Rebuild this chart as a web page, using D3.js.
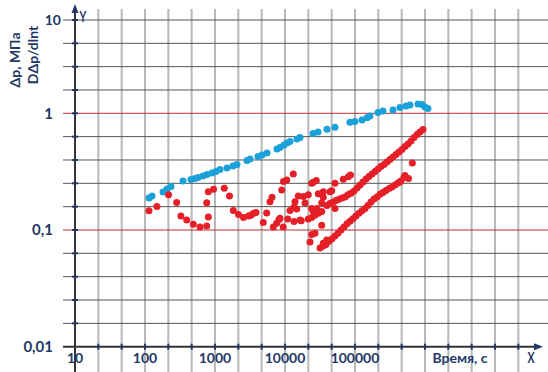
<!DOCTYPE html>
<html>
<head>
<meta charset="utf-8">
<script src="https://cdn.jsdelivr.net/npm/d3@7"></script>
<style>
  body { margin: 0; background: #fff; }
  svg { display: block; }
  text { font-family: Lato, "Noto Sans", sans-serif; font-weight: bold; fill: #1f3868; }
</style>
</head>
<body>
<div id="chart"></div>
<script>
// Δp (blue) : time, s / value, MPa
const dpTime = [114, 126, 181, 206, 235, 349, 454, 517, 572, 674, 768, 905, 1033, 1178, 1482, 1806,
  2061, 2863, 3160, 4114, 4691, 5529, 7681, 8481, 9670, 10680, 11780, 14820, 16370, 25100, 29580,
  39790, 51780, 84810, 99600, 125800, 148200, 163700, 213000, 251000, 348800, 439100, 535100,
  610200, 793900, 905100, 998900, 1102000];
const dpValue = [0.188, 0.196, 0.212, 0.225, 0.236, 0.263, 0.271, 0.276, 0.282, 0.290, 0.299, 0.308,
  0.317, 0.330, 0.340, 0.354, 0.364, 0.394, 0.406, 0.426, 0.439, 0.457, 0.494, 0.509, 0.535, 0.557,
  0.573, 0.602, 0.620, 0.671, 0.692, 0.729, 0.759, 0.837, 0.851, 0.876, 0.917, 0.948, 1.02, 1.058,
  1.085, 1.154, 1.197, 1.227, 1.258, 1.243, 1.168, 1.126];

// DΔp/dlnt (red) : scattered early part
const derivTime = [114, 148, 217, 283, 326, 394, 490, 611, 761, 803, 761, 803, 952, 1358, 1611, 1825,
  2167, 2554, 3010, 3268, 3548, 3853, 4899, 5477, 6105, 6520, 6805, 7607, 8207, 8484, 8972, 9519,
  10576, 13140, 9456, 10928, 11788, 13446, 13895, 14690, 13446, 17095, 16380, 15486, 18258, 19307,
  21518, 24068, 25370, 27989, 29900, 35250, 35250, 33440, 21518, 24068, 26827, 29900, 33440, 33440,
  24068, 22760, 26827, 24068, 25370, 28360, 43940, 46470, 51795, 68060, 80210, 86240, 51795,
  // upper branch
  39800, 43900, 48500, 53500, 59100, 65200, 72000, 79400, 87700, 96800, 107000, 118000, 130100,
  144000, 158000, 175000, 193070, 213000, 235000, 260000, 286000, 316000, 349000, 385000, 425000,
  469000, 518000, 572000, 631000, 696000, 769000, 848000, 936000,
  // lower branch
  31600, 34900, 35250, 38500, 39400, 42500, 46900, 51800, 57200, 63100, 69600, 76900, 84800, 93600,
  103000, 114000, 126000, 139000, 153000, 169000, 187000, 206000, 228000, 251000, 277000, 306000,
  338000, 373000, 411000, 439000, 454000, 501000, 518000, 581000, 659000];
const derivValue = [0.146, 0.159, 0.200, 0.172, 0.132, 0.122, 0.112, 0.106, 0.108, 0.129, 0.171,
  0.213, 0.223, 0.228, 0.196, 0.147, 0.136, 0.128, 0.132, 0.134, 0.139, 0.141, 0.116, 0.140, 0.175,
  0.191, 0.106, 0.114, 0.123, 0.126, 0.220, 0.260, 0.268, 0.302, 0.106, 0.124, 0.147, 0.157, 0.175,
  0.151, 0.118, 0.120, 0.122, 0.196, 0.194, 0.170, 0.200, 0.251, 0.256, 0.265, 0.204, 0.213, 0.191,
  0.170, 0.124, 0.128, 0.134, 0.139, 0.144, 0.110, 0.0915, 0.079, 0.094, 0.153, 0.144, 0.153,
  0.213, 0.217, 0.251, 0.272, 0.286, 0.296, 0.153,
  0.162, 0.169, 0.174, 0.179, 0.183, 0.188, 0.192, 0.200, 0.206, 0.216, 0.229, 0.243, 0.258,
  0.274, 0.287, 0.302, 0.317, 0.333, 0.350, 0.364, 0.382, 0.402, 0.422, 0.444, 0.466, 0.490,
  0.519, 0.546, 0.579, 0.620, 0.658, 0.691, 0.726,
  0.070, 0.073, 0.077, 0.075, 0.082, 0.080, 0.084, 0.089, 0.094, 0.100, 0.106, 0.113, 0.119, 0.125,
  0.132, 0.139, 0.146, 0.153, 0.162, 0.174, 0.184, 0.192, 0.202, 0.210, 0.218, 0.227, 0.234,
  0.243, 0.253, 0.259, 0.263, 0.282, 0.293, 0.276, 0.375];

const xTickValues = [10, 100, 1000, 10000, 100000];
const xTickLabels = ["10", "100", "1000", "10000", "100000"];
const yTickValues = [10, 1, 0.1, 0.01];
const yTickLabels = ["10", "1", "0,1", "0,01"];
const xTitle = "Время, с";
const yTitle = ["Δp, МПа", "DΔp/dlnt"];

const width = 548;
const height = 372;
const navy = "#1f3868";

const svg = d3.select("#chart").append("svg")
  .attr("width", width)
  .attr("height", height);

const x = d3.scaleLog().domain([10, 1e7]).range([75, 495]);
// the top decade is drawn shorter than the others, as in the picture
const y = d3.scaleLog().domain([0.01, 1, 10]).range([346.7, 113.3, 20]);

// grid values: 3 cells per decade along x, 5 (4 at the top) along y
const xGrid = d3.range(0, 20).map(i => Math.pow(10, 1 + i / 3));
const yGrid = [];
for (let k = -2; k < 0; k++) {
  for (let j = 0; j < 5; j++) yGrid.push(Math.pow(10, k + j / 5));
}
for (let j = 0; j <= 4; j++) yGrid.push(Math.pow(10, j / 4));

const x0 = x(10), y0 = y(0.01);

// vertical grid
svg.append("g").selectAll("line")
  .data(xGrid.slice(1))
  .join("line")
  .attr("x1", d => x(d)).attr("x2", d => x(d))
  .attr("y1", 9).attr("y2", height)
  .attr("stroke", "#b8b8b8")
  .attr("stroke-width", 2);

// horizontal grid
svg.append("g").selectAll("line")
  .data(yGrid.slice(1))
  .join("line")
  .attr("x1", 63).attr("x2", width)
  .attr("y1", d => y(d)).attr("y2", d => y(d))
  .attr("stroke", d => (Math.abs(d - 1) < 1e-9 || Math.abs(d - 0.1) < 1e-9) ? "#b8312f" : "#555")
  .attr("stroke-width", 1);

// axes
svg.append("line")
  .attr("x1", x0).attr("x2", x0)
  .attr("y1", 10).attr("y2", height)
  .attr("stroke", "#333").attr("stroke-width", 2);
svg.append("line")
  .attr("x1", 63).attr("x2", 536)
  .attr("y1", y0).attr("y2", y0)
  .attr("stroke", "#333").attr("stroke-width", 2);

svg.append("path")
  .attr("d", `M${x0},4 L${x0 - 3.5},13 L${x0 + 3.5},13 Z`)
  .attr("fill", navy);
svg.append("path")
  .attr("d", `M543,${y0} L534,${y0 - 3.5} L534,${y0 + 3.5} Z`)
  .attr("fill", navy);

// small ticks on axes
svg.append("g").selectAll("line")
  .data(yGrid.slice(1))
  .join("line")
  .attr("x1", x0 - 3).attr("x2", x0 + 3)
  .attr("y1", d => y(d)).attr("y2", d => y(d))
  .attr("stroke", navy).attr("stroke-width", 2);
svg.append("g").selectAll("line")
  .data(xGrid.slice(1))
  .join("line")
  .attr("x1", d => x(d)).attr("x2", d => x(d))
  .attr("y1", y0 - 3).attr("y2", y0 + 3)
  .attr("stroke", navy).attr("stroke-width", 2);

// points
const blue = d3.zip(dpTime, dpValue);
const red = d3.zip(derivTime, derivValue);

svg.append("g").selectAll("circle")
  .data(blue)
  .join("circle")
  .attr("cx", d => x(d[0]))
  .attr("cy", d => y(d[1]))
  .attr("r", 3.5)
  .attr("fill", "#1ba1d9");

svg.append("g").selectAll("circle")
  .data(red)
  .join("circle")
  .attr("cx", d => x(d[0]))
  .attr("cy", d => y(d[1]))
  .attr("r", 3.5)
  .attr("fill", "#e51f27");

// tick labels
svg.append("g").selectAll("text")
  .data(yTickValues)
  .join("text")
  .attr("x", (d, i) => i == 0 ? 61 : 53)
  .attr("y", d => y(d))
  .attr("dy", "0.35em")
  .attr("text-anchor", "end")
  .attr("font-size", (d, i) => i == 0 ? 14 : 15)
  .text((d, i) => yTickLabels[i]);

svg.append("g").selectAll("text")
  .data(xTickValues)
  .join("text")
  .attr("x", d => x(d))
  .attr("y", 358)
  .attr("dy", "0.35em")
  .attr("text-anchor", "middle")
  .attr("font-size", 14)
  .text((d, i) => xTickLabels[i]);

svg.append("text")
  .attr("x", 460).attr("y", 358)
  .attr("dy", "0.35em")
  .attr("text-anchor", "middle")
  .attr("font-size", 14)
  .text(xTitle);

svg.append("text")
  .attr("x", 531).attr("y", 358)
  .attr("dy", "0.35em")
  .attr("text-anchor", "middle")
  .attr("font-size", 15)
  .attr("transform", "translate(531,358) scale(0.7,1) translate(-531,-358)")
  .text("X");

svg.append("text")
  .attr("x", 83).attr("y", 17)
  .attr("dy", "0.35em")
  .attr("text-anchor", "middle")
  .attr("font-size", 15)
  .attr("transform", "translate(83,17) scale(0.7,1) translate(-83,-17)")
  .text("Y");

svg.append("text")
  .attr("transform", "translate(20,60) rotate(-90)")
  .attr("text-anchor", "middle")
  .attr("font-size", 14)
  .text(yTitle[0]);
svg.append("text")
  .attr("transform", "translate(38,55) rotate(-90)")
  .attr("text-anchor", "middle")
  .attr("font-size", 14)
  .text(yTitle[1]);
</script>
</body>
</html>
